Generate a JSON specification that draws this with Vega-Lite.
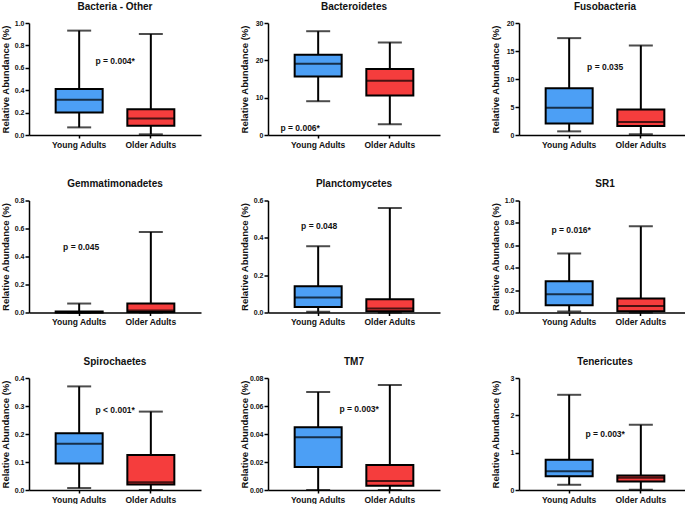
{
  "$schema": "https://vega.github.io/schema/vega-lite/v6.json",
  "padding": {"left": 0, "top": 1, "right": 0, "bottom": 0},
  "background": "white",
  "spacing": 29.5,
  "datasets": {
    "box": [
      {"phylum": "Bacteria - Other", "group": "Young Adults", "min": 0.068, "q1": 0.202, "median": 0.315, "q3": 0.41, "max": 0.932},
      {"phylum": "Bacteria - Other", "group": "Older Adults", "min": 0.006, "q1": 0.083, "median": 0.148, "q3": 0.229, "max": 0.902},
      {"phylum": "Bacteroidetes", "group": "Young Adults", "min": 9.05, "q1": 15.7, "median": 19.1, "q3": 21.5, "max": 27.8},
      {"phylum": "Bacteroidetes", "group": "Older Adults", "min": 2.9, "q1": 10.6, "median": 14.5, "q3": 17.7, "max": 24.8},
      {"phylum": "Fusobacteria", "group": "Young Adults", "min": 0.65, "q1": 2.07, "median": 4.85, "q3": 8.34, "max": 17.3},
      {"phylum": "Fusobacteria", "group": "Older Adults", "min": 0.12, "q1": 1.6, "median": 2.31, "q3": 4.56, "max": 16.0},
      {"phylum": "Gemmatimonadetes", "group": "Young Adults", "min": 0, "q1": 0, "median": 0.002, "q3": 0.007, "max": 0.064},
      {"phylum": "Gemmatimonadetes", "group": "Older Adults", "min": 0, "q1": 0.003, "median": 0.014, "q3": 0.064, "max": 0.575},
      {"phylum": "Planctomycetes", "group": "Young Adults", "min": 0.004, "q1": 0.03, "median": 0.08, "q3": 0.14, "max": 0.355},
      {"phylum": "Planctomycetes", "group": "Older Adults", "min": 0, "q1": 0.007, "median": 0.021, "q3": 0.071, "max": 0.56},
      {"phylum": "SR1", "group": "Young Adults", "min": 0.009, "q1": 0.065, "median": 0.163, "q3": 0.278, "max": 0.527},
      {"phylum": "SR1", "group": "Older Adults", "min": 0, "q1": 0.012, "median": 0.059, "q3": 0.124, "max": 0.769},
      {"phylum": "Spirochaetes", "group": "Young Adults", "min": 0.007, "q1": 0.095, "median": 0.165, "q3": 0.203, "max": 0.37},
      {"phylum": "Spirochaetes", "group": "Older Adults", "min": 0, "q1": 0.02, "median": 0.028, "q3": 0.125, "max": 0.28},
      {"phylum": "TM7", "group": "Young Adults", "min": 0, "q1": 0.0164, "median": 0.0377, "q3": 0.0449, "max": 0.07},
      {"phylum": "TM7", "group": "Older Adults", "min": 0, "q1": 0.0031, "median": 0.0064, "q3": 0.0178, "max": 0.075},
      {"phylum": "Tenericutes", "group": "Young Adults", "min": 0.14, "q1": 0.365, "median": 0.5, "q3": 0.81, "max": 2.55},
      {"phylum": "Tenericutes", "group": "Older Adults", "min": 0.01, "q1": 0.23, "median": 0.33, "q3": 0.39, "max": 1.745}
    ],
    "pv": [
      {"phylum": "Bacteria - Other", "label": "p = 0.004*", "y": 0.66},
      {"phylum": "Bacteroidetes", "label": "p = 0.006*", "y": 1.95},
      {"phylum": "Fusobacteria", "label": "p = 0.035", "y": 12.1},
      {"phylum": "Gemmatimonadetes", "label": "p = 0.045", "y": 0.466},
      {"phylum": "Planctomycetes", "label": "p = 0.048", "y": 0.462},
      {"phylum": "SR1", "label": "p = 0.016*", "y": 0.74},
      {"phylum": "Spirochaetes", "label": "p < 0.001*", "y": 0.285},
      {"phylum": "TM7", "label": "p = 0.003*", "y": 0.058},
      {"phylum": "Tenericutes", "label": "p = 0.003*", "y": 1.5}
    ]
  },
  "vconcat": [
    {
      "spacing": 50,
      "hconcat": [
        {
          "spacing": 38,
          "hconcat": [
            {"title": "Bacteria - Other", "width": 172, "height": 112, "layer": [
              {"data": {"name": "box"}, "transform": [{"filter": "datum.phylum === 'Bacteria - Other'"}],
               "encoding": {"x": {"field": "group", "type": "nominal", "scale": {"domain": ["Young Adults", "Older Adults"], "paddingInner": 0, "paddingOuter": 0.2}, "axis": {"title": null}}},
               "layer": [
                {"mark": {"type": "rule", "color": "black", "strokeWidth": 2}, "encoding": {"y": {"field": "min", "type": "quantitative", "scale": {"domain": [0, 1], "nice": false}, "axis": {"title": "Relative Abundance (%)", "values": [0, 0.2, 0.4, 0.6, 0.8, 1.0], "tickCount": 20, "format": ".1f"}}, "y2": {"field": "max"}}},
                {"mark": {"type": "bar", "width": 47, "stroke": "black", "strokeWidth": 2}, "encoding": {"y": {"field": "q1", "type": "quantitative"}, "y2": {"field": "q3"}, "color": {"field": "group", "type": "nominal", "scale": {"domain": ["Young Adults", "Older Adults"], "range": ["#4c9ff5", "#f53d3d"]}, "legend": null}}},
                {"mark": {"type": "tick", "color": "black", "size": 47, "thickness": 2}, "encoding": {"y": {"field": "median", "type": "quantitative"}}},
                {"mark": {"type": "tick", "color": "black", "size": 24, "thickness": 2}, "encoding": {"y": {"field": "max", "type": "quantitative"}}},
                {"mark": {"type": "tick", "color": "black", "size": 24, "thickness": 2}, "encoding": {"y": {"field": "min", "type": "quantitative"}}}
               ]},
              {"data": {"name": "pv"}, "transform": [{"filter": "datum.phylum === 'Bacteria - Other'"}], "mark": {"type": "text", "dx": 36, "fontWeight": "bold", "fontSize": 8.5, "font": "Liberation Sans", "color": "#111"}, "encoding": {"x": {"datum": "Young Adults", "type": "nominal"}, "y": {"field": "y", "type": "quantitative"}, "text": {"field": "label"}}}
            ]},
            {"title": "Bacteroidetes", "width": 172, "height": 112, "layer": [
              {"data": {"name": "box"}, "transform": [{"filter": "datum.phylum === 'Bacteroidetes'"}],
               "encoding": {"x": {"field": "group", "type": "nominal", "scale": {"domain": ["Young Adults", "Older Adults"], "paddingInner": 0, "paddingOuter": 0.2}, "axis": {"title": null}}},
               "layer": [
                {"mark": {"type": "rule", "color": "black", "strokeWidth": 2}, "encoding": {"y": {"field": "min", "type": "quantitative", "scale": {"domain": [0, 30], "nice": false}, "axis": {"title": "Relative Abundance (%)", "values": [0, 10, 20, 30], "tickCount": 20, "format": "d"}}, "y2": {"field": "max"}}},
                {"mark": {"type": "bar", "width": 47, "stroke": "black", "strokeWidth": 2}, "encoding": {"y": {"field": "q1", "type": "quantitative"}, "y2": {"field": "q3"}, "color": {"field": "group", "type": "nominal", "scale": {"domain": ["Young Adults", "Older Adults"], "range": ["#4c9ff5", "#f53d3d"]}, "legend": null}}},
                {"mark": {"type": "tick", "color": "black", "size": 47, "thickness": 2}, "encoding": {"y": {"field": "median", "type": "quantitative"}}},
                {"mark": {"type": "tick", "color": "black", "size": 24, "thickness": 2}, "encoding": {"y": {"field": "max", "type": "quantitative"}}},
                {"mark": {"type": "tick", "color": "black", "size": 24, "thickness": 2}, "encoding": {"y": {"field": "min", "type": "quantitative"}}}
               ]},
              {"data": {"name": "pv"}, "transform": [{"filter": "datum.phylum === 'Bacteroidetes'"}], "mark": {"type": "text", "dx": -18, "fontWeight": "bold", "fontSize": 8.5, "font": "Liberation Sans", "color": "#111"}, "encoding": {"x": {"datum": "Young Adults", "type": "nominal"}, "y": {"field": "y", "type": "quantitative"}, "text": {"field": "label"}}}
            ]}
          ]
        },
        {"title": "Fusobacteria", "width": 172, "height": 112, "layer": [
          {"data": {"name": "box"}, "transform": [{"filter": "datum.phylum === 'Fusobacteria'"}],
           "encoding": {"x": {"field": "group", "type": "nominal", "scale": {"domain": ["Young Adults", "Older Adults"], "paddingInner": 0, "paddingOuter": 0.2}, "axis": {"title": null}}},
           "layer": [
            {"mark": {"type": "rule", "color": "black", "strokeWidth": 2}, "encoding": {"y": {"field": "min", "type": "quantitative", "scale": {"domain": [0, 20], "nice": false}, "axis": {"title": "Relative Abundance (%)", "values": [0, 5, 10, 15, 20], "tickCount": 20, "format": "d"}}, "y2": {"field": "max"}}},
            {"mark": {"type": "bar", "width": 47, "stroke": "black", "strokeWidth": 2}, "encoding": {"y": {"field": "q1", "type": "quantitative"}, "y2": {"field": "q3"}, "color": {"field": "group", "type": "nominal", "scale": {"domain": ["Young Adults", "Older Adults"], "range": ["#4c9ff5", "#f53d3d"]}, "legend": null}}},
            {"mark": {"type": "tick", "color": "black", "size": 47, "thickness": 2}, "encoding": {"y": {"field": "median", "type": "quantitative"}}},
            {"mark": {"type": "tick", "color": "black", "size": 24, "thickness": 2}, "encoding": {"y": {"field": "max", "type": "quantitative"}}},
            {"mark": {"type": "tick", "color": "black", "size": 24, "thickness": 2}, "encoding": {"y": {"field": "min", "type": "quantitative"}}}
           ]},
          {"data": {"name": "pv"}, "transform": [{"filter": "datum.phylum === 'Fusobacteria'"}], "mark": {"type": "text", "dx": 36, "fontWeight": "bold", "fontSize": 8.5, "font": "Liberation Sans", "color": "#111"}, "encoding": {"x": {"datum": "Young Adults", "type": "nominal"}, "y": {"field": "y", "type": "quantitative"}, "text": {"field": "label"}}}
        ]}
      ]
    },
    {
      "spacing": 50,
      "hconcat": [
        {
          "spacing": 38,
          "hconcat": [
            {"title": "Gemmatimonadetes", "width": 172, "height": 112, "layer": [
              {"data": {"name": "box"}, "transform": [{"filter": "datum.phylum === 'Gemmatimonadetes'"}],
               "encoding": {"x": {"field": "group", "type": "nominal", "scale": {"domain": ["Young Adults", "Older Adults"], "paddingInner": 0, "paddingOuter": 0.2}, "axis": {"title": null}}},
               "layer": [
                {"mark": {"type": "rule", "color": "black", "strokeWidth": 2}, "encoding": {"y": {"field": "min", "type": "quantitative", "scale": {"domain": [0, 0.8], "nice": false}, "axis": {"title": "Relative Abundance (%)", "values": [0, 0.2, 0.4, 0.6, 0.8], "tickCount": 20, "format": ".1f"}}, "y2": {"field": "max"}}},
                {"mark": {"type": "bar", "width": 47, "stroke": "black", "strokeWidth": 2}, "encoding": {"y": {"field": "q1", "type": "quantitative"}, "y2": {"field": "q3"}, "color": {"field": "group", "type": "nominal", "scale": {"domain": ["Young Adults", "Older Adults"], "range": ["#4c9ff5", "#f53d3d"]}, "legend": null}}},
                {"mark": {"type": "tick", "color": "black", "size": 47, "thickness": 2}, "encoding": {"y": {"field": "median", "type": "quantitative"}}},
                {"mark": {"type": "tick", "color": "black", "size": 24, "thickness": 2}, "encoding": {"y": {"field": "max", "type": "quantitative"}}},
                {"mark": {"type": "tick", "color": "black", "size": 24, "thickness": 2}, "encoding": {"y": {"field": "min", "type": "quantitative"}}}
               ]},
              {"data": {"name": "pv"}, "transform": [{"filter": "datum.phylum === 'Gemmatimonadetes'"}], "mark": {"type": "text", "dx": 2, "fontWeight": "bold", "fontSize": 8.5, "font": "Liberation Sans", "color": "#111"}, "encoding": {"x": {"datum": "Young Adults", "type": "nominal"}, "y": {"field": "y", "type": "quantitative"}, "text": {"field": "label"}}}
            ]},
            {"title": "Planctomycetes", "width": 172, "height": 112, "layer": [
              {"data": {"name": "box"}, "transform": [{"filter": "datum.phylum === 'Planctomycetes'"}],
               "encoding": {"x": {"field": "group", "type": "nominal", "scale": {"domain": ["Young Adults", "Older Adults"], "paddingInner": 0, "paddingOuter": 0.2}, "axis": {"title": null}}},
               "layer": [
                {"mark": {"type": "rule", "color": "black", "strokeWidth": 2}, "encoding": {"y": {"field": "min", "type": "quantitative", "scale": {"domain": [0, 0.6], "nice": false}, "axis": {"title": "Relative Abundance (%)", "values": [0, 0.2, 0.4, 0.6], "tickCount": 20, "format": ".1f"}}, "y2": {"field": "max"}}},
                {"mark": {"type": "bar", "width": 47, "stroke": "black", "strokeWidth": 2}, "encoding": {"y": {"field": "q1", "type": "quantitative"}, "y2": {"field": "q3"}, "color": {"field": "group", "type": "nominal", "scale": {"domain": ["Young Adults", "Older Adults"], "range": ["#4c9ff5", "#f53d3d"]}, "legend": null}}},
                {"mark": {"type": "tick", "color": "black", "size": 47, "thickness": 2}, "encoding": {"y": {"field": "median", "type": "quantitative"}}},
                {"mark": {"type": "tick", "color": "black", "size": 24, "thickness": 2}, "encoding": {"y": {"field": "max", "type": "quantitative"}}},
                {"mark": {"type": "tick", "color": "black", "size": 24, "thickness": 2}, "encoding": {"y": {"field": "min", "type": "quantitative"}}}
               ]},
              {"data": {"name": "pv"}, "transform": [{"filter": "datum.phylum === 'Planctomycetes'"}], "mark": {"type": "text", "dx": 1, "fontWeight": "bold", "fontSize": 8.5, "font": "Liberation Sans", "color": "#111"}, "encoding": {"x": {"datum": "Young Adults", "type": "nominal"}, "y": {"field": "y", "type": "quantitative"}, "text": {"field": "label"}}}
            ]}
          ]
        },
        {"title": "SR1", "width": 172, "height": 112, "layer": [
          {"data": {"name": "box"}, "transform": [{"filter": "datum.phylum === 'SR1'"}],
           "encoding": {"x": {"field": "group", "type": "nominal", "scale": {"domain": ["Young Adults", "Older Adults"], "paddingInner": 0, "paddingOuter": 0.2}, "axis": {"title": null}}},
           "layer": [
            {"mark": {"type": "rule", "color": "black", "strokeWidth": 2}, "encoding": {"y": {"field": "min", "type": "quantitative", "scale": {"domain": [0, 1], "nice": false}, "axis": {"title": "Relative Abundance (%)", "values": [0, 0.2, 0.4, 0.6, 0.8, 1.0], "tickCount": 20, "format": ".1f"}}, "y2": {"field": "max"}}},
            {"mark": {"type": "bar", "width": 47, "stroke": "black", "strokeWidth": 2}, "encoding": {"y": {"field": "q1", "type": "quantitative"}, "y2": {"field": "q3"}, "color": {"field": "group", "type": "nominal", "scale": {"domain": ["Young Adults", "Older Adults"], "range": ["#4c9ff5", "#f53d3d"]}, "legend": null}}},
            {"mark": {"type": "tick", "color": "black", "size": 47, "thickness": 2}, "encoding": {"y": {"field": "median", "type": "quantitative"}}},
            {"mark": {"type": "tick", "color": "black", "size": 24, "thickness": 2}, "encoding": {"y": {"field": "max", "type": "quantitative"}}},
            {"mark": {"type": "tick", "color": "black", "size": 24, "thickness": 2}, "encoding": {"y": {"field": "min", "type": "quantitative"}}}
           ]},
          {"data": {"name": "pv"}, "transform": [{"filter": "datum.phylum === 'SR1'"}], "mark": {"type": "text", "dx": 2, "fontWeight": "bold", "fontSize": 8.5, "font": "Liberation Sans", "color": "#111"}, "encoding": {"x": {"datum": "Young Adults", "type": "nominal"}, "y": {"field": "y", "type": "quantitative"}, "text": {"field": "label"}}}
        ]}
      ]
    },
    {
      "spacing": 50,
      "hconcat": [
        {
          "spacing": 38,
          "hconcat": [
            {"title": "Spirochaetes", "width": 172, "height": 112, "layer": [
              {"data": {"name": "box"}, "transform": [{"filter": "datum.phylum === 'Spirochaetes'"}],
               "encoding": {"x": {"field": "group", "type": "nominal", "scale": {"domain": ["Young Adults", "Older Adults"], "paddingInner": 0, "paddingOuter": 0.2}, "axis": {"title": null}}},
               "layer": [
                {"mark": {"type": "rule", "color": "black", "strokeWidth": 2}, "encoding": {"y": {"field": "min", "type": "quantitative", "scale": {"domain": [0, 0.4], "nice": false}, "axis": {"title": "Relative Abundance (%)", "values": [0, 0.1, 0.2, 0.3, 0.4], "tickCount": 20, "format": ".1f"}}, "y2": {"field": "max"}}},
                {"mark": {"type": "bar", "width": 47, "stroke": "black", "strokeWidth": 2}, "encoding": {"y": {"field": "q1", "type": "quantitative"}, "y2": {"field": "q3"}, "color": {"field": "group", "type": "nominal", "scale": {"domain": ["Young Adults", "Older Adults"], "range": ["#4c9ff5", "#f53d3d"]}, "legend": null}}},
                {"mark": {"type": "tick", "color": "black", "size": 47, "thickness": 2}, "encoding": {"y": {"field": "median", "type": "quantitative"}}},
                {"mark": {"type": "tick", "color": "black", "size": 24, "thickness": 2}, "encoding": {"y": {"field": "max", "type": "quantitative"}}},
                {"mark": {"type": "tick", "color": "black", "size": 24, "thickness": 2}, "encoding": {"y": {"field": "min", "type": "quantitative"}}}
               ]},
              {"data": {"name": "pv"}, "transform": [{"filter": "datum.phylum === 'Spirochaetes'"}], "mark": {"type": "text", "dx": 36, "fontWeight": "bold", "fontSize": 8.5, "font": "Liberation Sans", "color": "#111"}, "encoding": {"x": {"datum": "Young Adults", "type": "nominal"}, "y": {"field": "y", "type": "quantitative"}, "text": {"field": "label"}}}
            ]},
            {"title": "TM7", "width": 172, "height": 112, "layer": [
              {"data": {"name": "box"}, "transform": [{"filter": "datum.phylum === 'TM7'"}],
               "encoding": {"x": {"field": "group", "type": "nominal", "scale": {"domain": ["Young Adults", "Older Adults"], "paddingInner": 0, "paddingOuter": 0.2}, "axis": {"title": null}}},
               "layer": [
                {"mark": {"type": "rule", "color": "black", "strokeWidth": 2}, "encoding": {"y": {"field": "min", "type": "quantitative", "scale": {"domain": [0, 0.08], "nice": false}, "axis": {"title": "Relative Abundance (%)", "values": [0, 0.02, 0.04, 0.06, 0.08], "tickCount": 20, "format": ".2f"}}, "y2": {"field": "max"}}},
                {"mark": {"type": "bar", "width": 47, "stroke": "black", "strokeWidth": 2}, "encoding": {"y": {"field": "q1", "type": "quantitative"}, "y2": {"field": "q3"}, "color": {"field": "group", "type": "nominal", "scale": {"domain": ["Young Adults", "Older Adults"], "range": ["#4c9ff5", "#f53d3d"]}, "legend": null}}},
                {"mark": {"type": "tick", "color": "black", "size": 47, "thickness": 2}, "encoding": {"y": {"field": "median", "type": "quantitative"}}},
                {"mark": {"type": "tick", "color": "black", "size": 24, "thickness": 2}, "encoding": {"y": {"field": "max", "type": "quantitative"}}},
                {"mark": {"type": "tick", "color": "black", "size": 24, "thickness": 2}, "encoding": {"y": {"field": "min", "type": "quantitative"}}}
               ]},
              {"data": {"name": "pv"}, "transform": [{"filter": "datum.phylum === 'TM7'"}], "mark": {"type": "text", "dx": 41, "fontWeight": "bold", "fontSize": 8.5, "font": "Liberation Sans", "color": "#111"}, "encoding": {"x": {"datum": "Young Adults", "type": "nominal"}, "y": {"field": "y", "type": "quantitative"}, "text": {"field": "label"}}}
            ]}
          ]
        },
        {"title": "Tenericutes", "width": 172, "height": 112, "layer": [
          {"data": {"name": "box"}, "transform": [{"filter": "datum.phylum === 'Tenericutes'"}],
           "encoding": {"x": {"field": "group", "type": "nominal", "scale": {"domain": ["Young Adults", "Older Adults"], "paddingInner": 0, "paddingOuter": 0.2}, "axis": {"title": null}}},
           "layer": [
            {"mark": {"type": "rule", "color": "black", "strokeWidth": 2}, "encoding": {"y": {"field": "min", "type": "quantitative", "scale": {"domain": [0, 3], "nice": false}, "axis": {"title": "Relative Abundance (%)", "values": [0, 1, 2, 3], "tickCount": 20, "format": "d"}}, "y2": {"field": "max"}}},
            {"mark": {"type": "bar", "width": 47, "stroke": "black", "strokeWidth": 2}, "encoding": {"y": {"field": "q1", "type": "quantitative"}, "y2": {"field": "q3"}, "color": {"field": "group", "type": "nominal", "scale": {"domain": ["Young Adults", "Older Adults"], "range": ["#4c9ff5", "#f53d3d"]}, "legend": null}}},
            {"mark": {"type": "tick", "color": "black", "size": 47, "thickness": 2}, "encoding": {"y": {"field": "median", "type": "quantitative"}}},
            {"mark": {"type": "tick", "color": "black", "size": 24, "thickness": 2}, "encoding": {"y": {"field": "max", "type": "quantitative"}}},
            {"mark": {"type": "tick", "color": "black", "size": 24, "thickness": 2}, "encoding": {"y": {"field": "min", "type": "quantitative"}}}
           ]},
          {"data": {"name": "pv"}, "transform": [{"filter": "datum.phylum === 'Tenericutes'"}], "mark": {"type": "text", "dx": 36, "fontWeight": "bold", "fontSize": 8.5, "font": "Liberation Sans", "color": "#111"}, "encoding": {"x": {"datum": "Young Adults", "type": "nominal"}, "y": {"field": "y", "type": "quantitative"}, "text": {"field": "label"}}}
        ]}
      ]
    }
  ],
  "config": {
    "view": {"stroke": null},
    "font": "Liberation Sans",
    "axis": {"domainColor": "black", "tickColor": "black", "labelColor": "#111", "titleColor": "#111", "labelFont": "Liberation Sans", "titleFont": "Liberation Sans", "grid": false, "labelFontWeight": "bold", "titleFontWeight": "bold", "domainWidth": 1.5, "tickWidth": 1.5},
    "axisY": {"labelFontSize": 7, "tickSize": 4, "labelPadding": 1, "minExtent": 18, "maxExtent": 18, "titlePadding": 1, "titleFontSize": 9.5},
    "axisX": {"labelFontSize": 8.5, "tickSize": 3, "labelPadding": 2, "labelAngle": 0},
    "title": {"font": "Liberation Sans", "fontSize": 10, "fontWeight": "bold", "offset": 7.5, "anchor": "middle", "color": "#111"}
  }
}
